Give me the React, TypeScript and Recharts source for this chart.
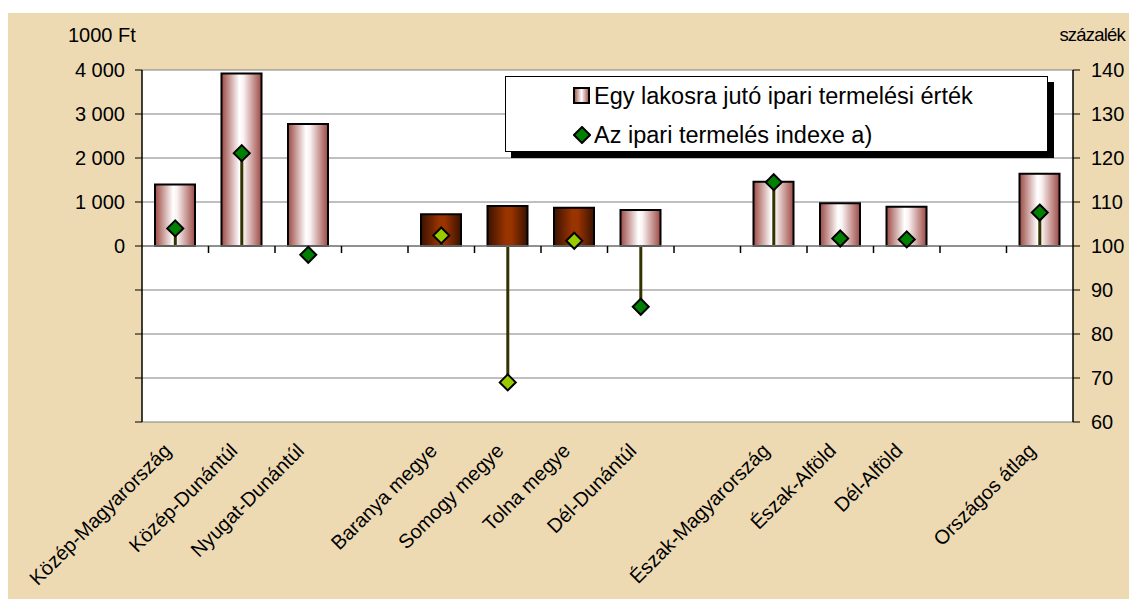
import React from 'react';
import {
  ComposedChart,
  Bar,
  Line,
  XAxis,
  YAxis,
  CartesianGrid,
  ReferenceLine,
  Legend,
  Cell,
} from 'recharts';

// null = empty slot between region groups
const categories = [
  'Közép-Magyarország',
  'Közép-Dunántúl',
  'Nyugat-Dunántúl',
  null,
  'Baranya megye',
  'Somogy megye',
  'Tolna megye',
  'Dél-Dunántúl',
  null,
  'Észak-Magyarország',
  'Észak-Alföld',
  'Dél-Alföld',
  null,
  'Országos átlag',
];
const outputPerCapita = [1400, 3920, 2770, null, 720, 910, 870, 820, null, 1460, 970, 890, null, 1640];
const productionIndex = [104.0, 121.1, 98.0, null, 102.4, 69.0, 101.2, 86.2, null, 114.5, 101.7, 101.5, null, 107.6];
const counties = ['Baranya megye', 'Somogy megye', 'Tolna megye'];
const leftTicks = [-4000, -3000, -2000, -1000, 0, 1000, 2000, 3000, 4000];
const rightTicks = [60, 70, 80, 90, 100, 110, 120, 130, 140];
const indexBase = 100;
const seriesNames = ['Egy lakosra jutó ipari termelési érték', 'Az ipari termelés indexe a)'];
const leftUnit = '1000 Ft';
const rightUnit = 'százalék';

const FONT = '"Liberation Sans", Arial, sans-serif';

const rows = categories.map((c, i) => ({
  key: c ?? `gap${i}`,
  label: c ?? '',
  value: outputPerCapita[i],
  index: productionIndex[i],
  stem: productionIndex[i] == null ? null : [indexBase, productionIndex[i]],
  county: c != null && counties.includes(c),
}));

const fmtThousands = (v: number) =>
  v < 0 ? '' : String(v).replace(/\B(?=(\d{3})+(?!\d))/g, ' ');

const CategoryTick = (props: any) => {
  const { x, y, payload } = props;
  const row = rows.find((r) => r.key === payload.value);
  if (!row || !row.label) return <g />;
  return (
    <text
      transform={`translate(${x - 3},${y + 30}) rotate(-45)`}
      textAnchor="end"
      fontFamily={FONT}
      fontSize={20}
      fill="#000"
    >
      {row.label}
    </text>
  );
};

const ZeroAxis = (props: any) => {
  const { x1, y1, x2, y2 } = props;
  const step = (x2 - x1) / rows.length;
  return (
    <g>
      <line x1={x1} y1={y1} x2={x2} y2={y2} stroke="#808080" strokeWidth={1.5} />
      {rows.slice(1).map((_, i) => (
        <line
          key={i}
          x1={x1 + step * (i + 1)}
          x2={x1 + step * (i + 1)}
          y1={y1}
          y2={y1 + 7}
          stroke="#000"
          strokeWidth={1.5}
        />
      ))}
    </g>
  );
};

const Stem = (props: any) => {
  const { x, y, width, height } = props;
  if (x == null || y == null) return <g />;
  const cx = x + width / 2;
  return <line x1={cx} x2={cx} y1={y} y2={y + height} stroke="#333300" strokeWidth={3} />;
};

const Diamond = (props: any) => {
  const { cx, cy, payload, index } = props;
  if (cx == null || cy == null || payload?.index == null) return <g key={`d${index}`} />;
  const r = 8;
  return (
    <path
      key={`d${index}`}
      d={`M${cx},${cy - r} L${cx + r},${cy} L${cx},${cy + r} L${cx - r},${cy} Z`}
      fill={payload.county ? '#99CC00' : '#008000'}
      stroke="#000"
      strokeWidth={2}
    />
  );
};

const LegendBox = () => (
  <div
    style={{
      width: 543,
      height: 76,
      boxSizing: 'border-box',
      background: '#fff',
      border: '1px solid #000',
      boxShadow: '6px 6px 0 #000',
      fontFamily: FONT,
      fontSize: 23.5,
      color: '#000',
      position: 'relative',
    }}
  >
    <div style={{ position: 'absolute', left: 67, top: 4, display: 'flex', alignItems: 'center', height: 30 }}>
      <svg width={18} height={18} style={{ marginRight: 3 }}>
        <rect x={1} y={1} width={15} height={15} fill="url(#legendGrad)" stroke="#000" strokeWidth={2} />
        <defs>
          <linearGradient id="legendGrad" x1="0" y1="0" x2="1" y2="0">
            <stop offset="0" stopColor="#9C4A44" />
            <stop offset="0.5" stopColor="#ffffff" />
            <stop offset="1" stopColor="#9C4A44" />
          </linearGradient>
        </defs>
      </svg>
      <span>{seriesNames[0]}</span>
    </div>
    <div style={{ position: 'absolute', left: 67, top: 43, display: 'flex', alignItems: 'center', height: 30 }}>
      <svg width={18} height={18} style={{ marginRight: 3 }}>
        <path d="M9,1 L17,9 L9,17 L1,9 Z" fill="#008000" stroke="#000" strokeWidth={2} />
      </svg>
      <span>{seriesNames[1]}</span>
    </div>
  </div>
);

export default function App() {
  return (
    <div style={{ position: 'absolute', left: 0, top: 0, width: 1129, height: 599, background: '#fff', overflow: 'hidden' }}>
      <div style={{ position: 'absolute', left: 8, top: 13, right: 0, bottom: 0, background: '#EDDAB3' }} />
      <div style={{ position: 'absolute', left: 68, top: 24, fontFamily: FONT, fontSize: 20, color: '#000' }}>{leftUnit}</div>
      <div
        style={{
          position: 'absolute',
          right: 4,
          top: 24,
          fontFamily: FONT,
          fontSize: 18.5,
          letterSpacing: -0.8,
          color: '#000',
        }}
      >
        {rightUnit}
      </div>
      <div style={{ position: 'absolute', left: 0, top: 0 }}>
        <ComposedChart
          width={1129}
          height={599}
          data={rows}
          margin={{ top: 70, right: 0, bottom: 27, left: 42 }}
          barCategoryGap="20%"
        >
          <defs>
            <linearGradient id="barGrad" x1="0" y1="0" x2="1" y2="0">
              <stop offset="0" stopColor="#9C4A44" />
              <stop offset="0.45" stopColor="#ffffff" />
              <stop offset="0.55" stopColor="#faf2f2" />
              <stop offset="1" stopColor="#9C4A44" />
            </linearGradient>
            <linearGradient id="countyGrad" x1="0" y1="0" x2="1" y2="0">
              <stop offset="0" stopColor="#3A1200" />
              <stop offset="0.45" stopColor="#993300" />
              <stop offset="0.6" stopColor="#993300" />
              <stop offset="1" stopColor="#3A1200" />
            </linearGradient>
          </defs>
          <CartesianGrid yAxisId="left" vertical={false} stroke="#808080" fill="#fff" fillOpacity={1} />
          <XAxis
            dataKey="key"
            interval={0}
            axisLine={false}
            tickLine={false}
            tickSize={0}
            tickMargin={0}
            height={150}
            tick={<CategoryTick />}
          />
          <XAxis dataKey="key" xAxisId="stem" hide />
          <YAxis
            yAxisId="left"
            width={100}
            domain={[-4000, 4000]}
            ticks={leftTicks}
            interval={0}
            tickFormatter={fmtThousands}
            axisLine={{ stroke: '#000', strokeWidth: 1.5 }}
            tickLine={{ stroke: '#000' }}
            tickSize={7}
            tickMargin={10}
            tick={{ fill: '#000', fontSize: 20, fontFamily: FONT }}
          />
          <YAxis
            yAxisId="right"
            orientation="right"
            width={56}
            domain={[60, 140]}
            ticks={rightTicks}
            interval={0}
            axisLine={{ stroke: '#000', strokeWidth: 1.5 }}
            tickLine={{ stroke: '#000' }}
            tickSize={7}
            tickMargin={11}
            tick={{ fill: '#000', fontSize: 20, fontFamily: FONT }}
          />
          <ReferenceLine yAxisId="left" y={0} shape={<ZeroAxis />} />
          <Legend
            layout="vertical"
            align="center"
            verticalAlign="middle"
            wrapperStyle={{ left: 505, top: 76, width: 543, height: 76 }}
            content={<LegendBox />}
          />
          <Bar
            yAxisId="left"
            dataKey="value"
            name={seriesNames[0]}
            barSize={40}
            stroke="#000"
            strokeWidth={2}
            isAnimationActive={false}
          >
            {rows.map((r, i) => (
              <Cell key={i} fill={r.county ? 'url(#countyGrad)' : 'url(#barGrad)'} />
            ))}
          </Bar>
          <Bar
            yAxisId="right"
            xAxisId="stem"
            dataKey="stem"
            legendType="none"
            shape={<Stem />}
            isAnimationActive={false}
          />
          <Line
            yAxisId="right"
            dataKey="index"
            name={seriesNames[1]}
            stroke="none"
            dot={<Diamond />}
            activeDot={false}
            legendType="diamond"
            isAnimationActive={false}
          />
        </ComposedChart>
      </div>
    </div>
  );
}
